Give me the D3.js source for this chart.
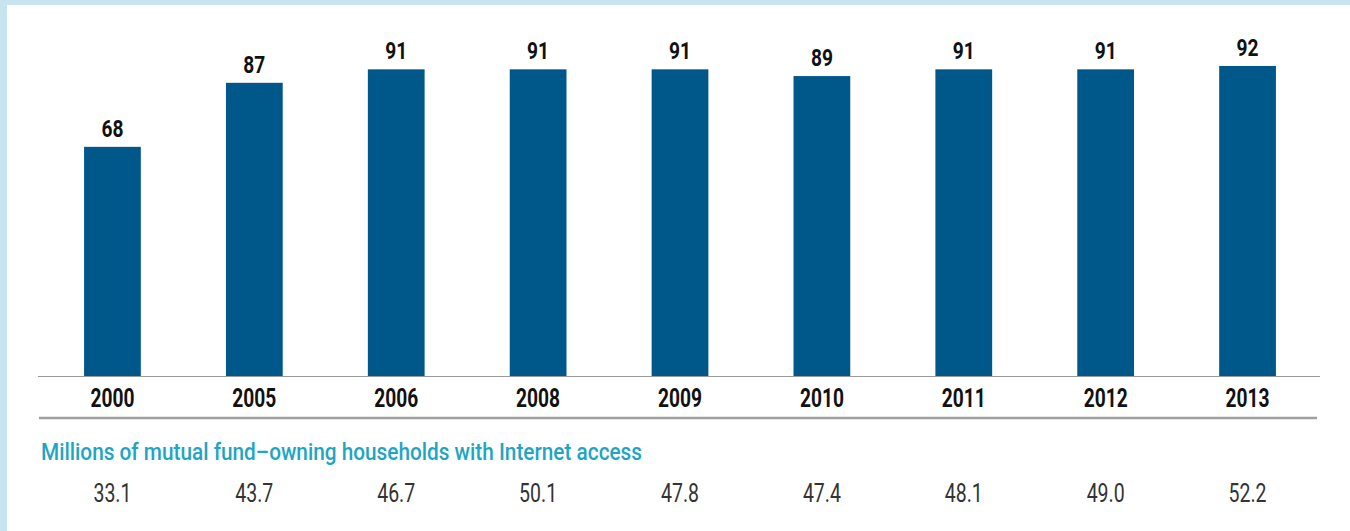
<!DOCTYPE html>
<html>
<head>
<meta charset="utf-8">
<script src="https://cdn.jsdelivr.net/npm/d3@7"></script>
<style>
  body { margin: 0; background: #c6e3ef; }
  svg { display: block; }
  text { font-family: "Roboto", "DejaVu Sans Condensed", sans-serif; }
</style>
</head>
<body>
<div class="chart"></div>
<script>
const years = ["2000", "2005", "2006", "2008", "2009", "2010", "2011", "2012", "2013"];
const percents = [68, 87, 91, 91, 91, 89, 91, 91, 92];
const households = ["33.1", "43.7", "46.7", "50.1", "47.8", "47.4", "48.1", "49.0", "52.2"];
const subtitle = "Millions of mutual fund\u2013owning households with Internet access";

const width = 1350;
const height = 531;

const svg = d3
  .select(".chart")
  .append("svg")
  .attr("width", width)
  .attr("height", height);

// white panel inside the light blue frame
svg.append("rect")
  .attr("x", 7)
  .attr("y", 5)
  .attr("width", width - 7)
  .attr("height", height - 5)
  .attr("fill", "#ffffff");

const x = d3.scaleBand()
  .domain(years)
  .range([41.5, 1318.5])
  .paddingInner(0.6)
  .paddingOuter(0.3);

const y = d3.scaleLinear()
  .domain([0, 100])
  .range([376, 39]);

svg.selectAll("rect.bar")
  .data(percents)
  .enter()
  .append("rect")
  .attr("class", "bar")
  .attr("x", (d, i) => x(years[i]))
  .attr("y", (d) => y(d))
  .attr("width", x.bandwidth())
  .attr("height", (d) => y(0) - y(d))
  .attr("fill", "#00578a");

svg.selectAll("text.value")
  .data(percents)
  .enter()
  .append("text")
  .attr("class", "value")
  .attr("x", (d, i) => x(years[i]) + x.bandwidth() / 2)
  .attr("y", (d) => y(d) - 10)
  .attr("text-anchor", "middle")
  .attr("font-size", 23.5)
  .attr("font-weight", "bold")
  .attr("fill", "#111")
  .attr("textLength", 22)
  .attr("lengthAdjust", "spacingAndGlyphs")
  .text((d) => d);

// axis line
svg.append("line")
  .attr("x1", 38)
  .attr("x2", 1320)
  .attr("y1", y(0) + 0.5)
  .attr("y2", y(0) + 0.5)
  .attr("stroke", "#9a9a9a")
  .attr("stroke-width", 1);

const xAxis = svg.append("g")
  .attr("transform", `translate(0,${y(0)})`)
  .call(d3.axisBottom(x).tickSize(0).tickPadding(0));

xAxis.select(".domain").remove();
xAxis.selectAll("text")
  .attr("dy", 0)
  .attr("y", 31)
  .attr("font-size", 25)
  .attr("font-weight", "bold")
  .attr("fill", "#111")
  .attr("font-family", null)
  .attr("textLength", 44)
  .attr("lengthAdjust", "spacingAndGlyphs");

// thick rule under the years
svg.append("line")
  .attr("x1", 39)
  .attr("x2", 1317)
  .attr("y1", 418)
  .attr("y2", 418)
  .attr("stroke", "#a0a0a0")
  .attr("stroke-width", 2.5);

svg.append("text")
  .attr("x", 41)
  .attr("y", 460)
  .attr("font-size", 23.5)
  .attr("font-weight", 500)
  .attr("fill", "#1fa5c3")
  .attr("textLength", 601)
  .attr("lengthAdjust", "spacingAndGlyphs")
  .text(subtitle);

svg.selectAll("text.households")
  .data(households)
  .enter()
  .append("text")
  .attr("class", "households")
  .attr("x", (d, i) => x(years[i]) + x.bandwidth() / 2)
  .attr("y", 502)
  .attr("text-anchor", "middle")
  .attr("font-size", 25)
  .attr("font-weight", 400)
  .attr("fill", "#333")
  .attr("textLength", 38)
  .attr("lengthAdjust", "spacingAndGlyphs")
  .text((d) => d);
</script>
</body>
</html>
